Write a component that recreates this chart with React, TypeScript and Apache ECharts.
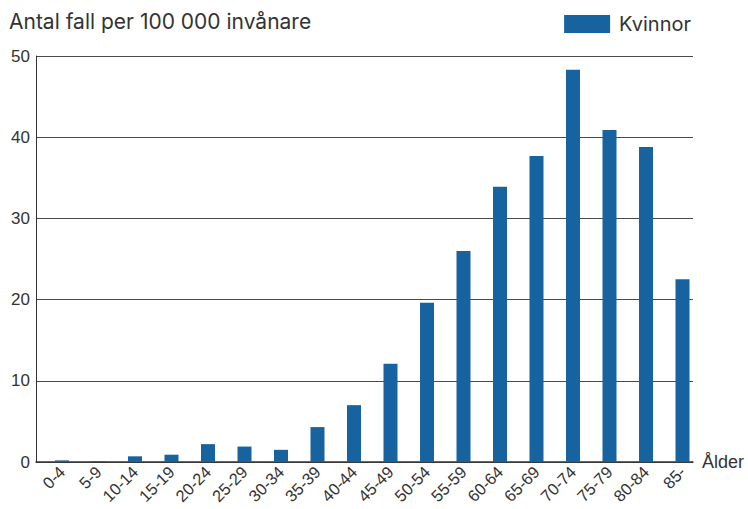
import React, { useEffect, useRef } from "react";
import * as echarts from "echarts";

const categories = ["0-4", "5-9", "10-14", "15-19", "20-24", "25-29", "30-34", "35-39", "40-44", "45-49", "50-54", "55-59", "60-64", "65-69", "70-74", "75-79", "80-84", "85-"];
const kvinnor = [0.2, 0.1, 0.7, 0.9, 2.2, 1.9, 1.5, 4.3, 7.0, 12.1, 19.6, 26.0, 33.9, 37.7, 48.3, 40.9, 38.8, 22.5];
const yTicks = [0, 10, 20, 30, 40, 50];

export default function App() {
  const ref = useRef<HTMLDivElement>(null);
  useEffect(() => {
    if (!ref.current) return;
    const chart = echarts.init(ref.current, null, { renderer: "svg" });
    chart.setOption({
      animation: false,
      backgroundColor: "#ffffff",
      textStyle: { fontFamily: "Liberation Sans" },
      title: {
        text: "Antal fall per 100 000 invånare",
        left: 9,
        top: 11,
        padding: 0,
        textStyle: { fontFamily: "Inter", fontSize: 21, fontWeight: "normal", color: "#333333" },
      },
      legend: {
        data: [{ name: "Kvinnor", icon: "rect" }],
        right: 57,
        top: 14,
        itemWidth: 46,
        itemHeight: 18,
        padding: 0,
        textStyle: { fontFamily: "Inter", fontSize: 20, color: "#333333", padding: [0, 0, 0, 4] },
      },
      grid: [
        { left: 36, right: 55, top: 56, bottom: 47, containLabel: false, outerBoundsMode: "none" },
        { left: 43.75, right: 47.25, top: 56, bottom: 47, containLabel: false, outerBoundsMode: "none" },
      ],
      xAxis: [
        {
          type: "category",
          gridIndex: 0,
          data: categories,
          name: "Ålder",
          nameLocation: "end",
          nameGap: 9,
          nameTextStyle: { fontFamily: "Liberation Sans", fontSize: 18, color: "#333333", verticalAlign: "middle" },
          axisLine: { show: true, lineStyle: { color: "#333333", width: 1.5 } },
          axisTick: { show: false },
          axisLabel: { show: false },
        },
        {
          type: "category",
          gridIndex: 1,
          data: categories,
          axisLine: { show: false },
          axisTick: { show: false },
          axisLabel: { rotate: 45, fontSize: 16.5, color: "#333333", margin: 7, interval: 0 },
        },
      ],
      yAxis: [
        {
          type: "value",
          gridIndex: 0,
          min: 0,
          max: 50,
          interval: 10,
          axisLine: { show: true, lineStyle: { color: "#333333", width: 1 } },
          axisTick: { show: false },
          axisLabel: {
            fontSize: 17,
            color: "#333333",
            margin: 6,
            formatter: (v: number) => (yTicks.includes(v) ? String(v) : ""),
          },
          splitLine: { show: true, lineStyle: { color: "#4a4a4a", width: 1 } },
        },
        {
          type: "value",
          gridIndex: 1,
          min: 0,
          max: 50,
          interval: 10,
          show: false,
          splitLine: { show: false },
        },
      ],
      series: [
        {
          name: "Kvinnor",
          type: "bar",
          xAxisIndex: 1,
          yAxisIndex: 1,
          data: kvinnor,
          barWidth: 14,
          itemStyle: { color: "#17639f" },
        },
      ],
    });
    return () => chart.dispose();
  }, []);
  return <div ref={ref} style={{ width: 748, height: 509, position: "absolute", left: 0, top: 0 }} />;
}
